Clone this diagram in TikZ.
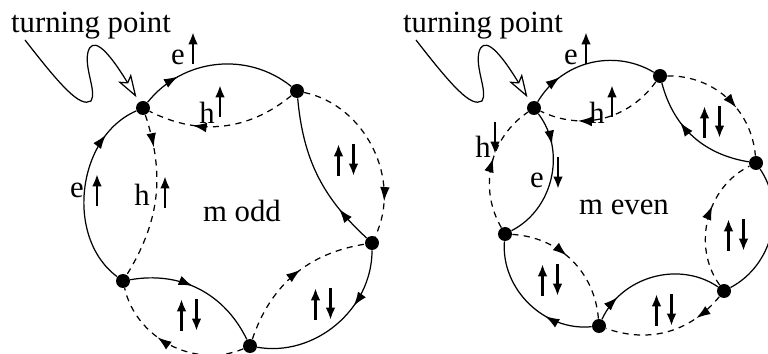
\documentclass[tikz,border=0pt]{standalone}
\usepackage{fontspec}
\setmainfont{Liberation Serif}
\usetikzlibrary{arrows.meta,decorations.markings}
\tikzset{dot/.style={
    circle,
    fill,
    inner sep=0pt,
    minimum size=0.28cm
  },
  eln/.style={line width=0.7pt},
  hln/.style={eln,dash pattern=on 3.5pt off 3pt},
  arr/.style={postaction={decorate},
    decoration={markings,mark=at position #1 with {\arrow{Latex[length=8pt,width=5.5pt]}}}},
  spin/.style={line width=1.4pt,-{Latex[length=7pt,width=5.5pt]}},
  txt/.style={inner sep=0pt,font=\fontsize{17.5}{20}\selectfont},
  tparrow/.style={eln,-{Stealth[open,length=13pt,width=8.5pt,inset=3pt]},shorten >=3pt},
  spinup/.pic={\draw[spin] (0,16) -- (0,-16);},
  spindn/.pic={\draw[spin] (0,-16) -- (0,16);},
  spinpair/.pic={\draw[spin] (-7.5,16) -- (-7.5,-16); \draw[spin] (7.5,-16) -- (7.5,16);},
}

\begin{document}
\begin{tikzpicture}[x=0.02cm,y=-0.02cm]
  \useasboundingbox (0,0) rectangle (768,354);
  % m odd
  \node[dot] (a1) at (143,108) {};
  \node[dot] (b1) at (297,91) {};
  \node[dot] (c1) at (372,243) {};
  \node[dot] (d1) at (250,346) {};
  \node[dot] (e1) at (123,281) {};
  \draw[eln,arr=0.25] (a1) to[bend left=45] (b1);
  \draw[hln,arr=0.7] (b1) to[bend left=33] (a1);
  \draw[hln,arr=0.2] (a1) to[bend left=25] (e1);
  \draw[eln,arr=0.8] (e1) to[bend left=60] (a1);
  \draw[eln,arr=0.45] (e1) to[bend left=37] (d1);
  \draw[hln,arr=0.6] (d1) to[bend left=50] (e1);
  \draw[hln,arr=0.55] (d1) to[bend left=31] (c1);
  \draw[eln,arr=0.35] (c1) to[bend left=50] (d1);
  \draw[eln,arr=0.25] (c1) to[bend left=21] (b1);
  \draw[hln,arr=0.8] (b1) to[bend left=52] (c1);
  \node[txt] (ea1) at (178,57) {e}; \pic at (193,48) {spinup};
  \node[txt] (ha1) at (207,113) {h}; \pic at (220,101) {spinup};
  \node[txt] (ea2) at (77,190) {e}; \pic at (97,190) {spinup};
  \node[txt] (ha2) at (142,195) {h}; \pic at (165,192) {spinup};
  \pic at (189,315) {spinpair};
  \pic at (323,304) {spinpair};
  \pic at (346,160) {spinpair};
  \node[txt,anchor=base] (odd) at (242,222) {m odd};
  \node[txt,anchor=base] (tp1) at (91,33) {turning point};
  \coordinate (w1) at (25,40);
  \draw[tparrow] (w1) .. controls (60,85) and (80,108) .. (91,101)
    .. controls (97,92) and (84,68) .. (88,52)
    .. controls (92,38) and (104,44) .. (a1);
  % m even
  \node[dot] (a2) at (534,108) {};
  \node[dot] (b2) at (660,76) {};
  \node[dot] (c2) at (756,163) {};
  \node[dot] (d2) at (724,291) {};
  \node[dot] (e2) at (599,326) {};
  \node[dot] (f2) at (505,234) {};
  \draw[eln,arr=0.25] (a2) to[bend left=45] (b2);
  \draw[hln,arr=0.7] (b2) to[bend left=40] (a2);
  \draw[hln,arr=0.55] (f2) to[bend left=43] (a2);
  \draw[eln,arr=0.25] (a2) to[bend left=50] (f2);
  \draw[hln,arr=0.45] (f2) to[bend left=41] (e2);
  \draw[eln,arr=0.35] (e2) to[bend left=50] (f2);
  \draw[eln,arr=0.2] (e2) to[bend left=50] (d2);
  \draw[hln,arr=0.25] (d2) to[bend left=35] (e2);
  \draw[hln,arr=0.6] (d2) to[bend left=50] (c2);
  \draw[eln,arr=0.4] (c2) to[bend left=48] (d2);
  \draw[hln,arr=0.6] (b2) to[bend left=43] (c2);
  \draw[eln,arr=0.65] (c2) to[bend left=33] (b2);
  \node[txt] (eb1) at (571,57) {e}; \pic at (586,48) {spinup};
  \node[txt] (hb1) at (597,113) {h}; \pic at (612,101) {spinup};
  \node[txt] (hb2) at (483,147) {h}; \pic at (495,138) {spindn};
  \node[txt] (eb2) at (537,180) {e}; \pic at (558,173) {spindn};
  \pic at (712,122) {spinpair};
  \pic at (736,235) {spinpair};
  \pic at (664,310) {spinpair};
  \pic at (550,280) {spinpair};
  \node[txt,anchor=base] (even) at (624,215) {m even};
  \node[txt,anchor=base] (tp2) at (483,33) {turning point};
  \coordinate (w2) at (416,40);
  \draw[tparrow,shift={(391,0)}] (w2) .. controls (60,85) and (80,108) .. (91,101)
    .. controls (97,92) and (84,68) .. (88,52)
    .. controls (92,38) and (104,44) .. (a2);
\end{tikzpicture}
\end{document}
